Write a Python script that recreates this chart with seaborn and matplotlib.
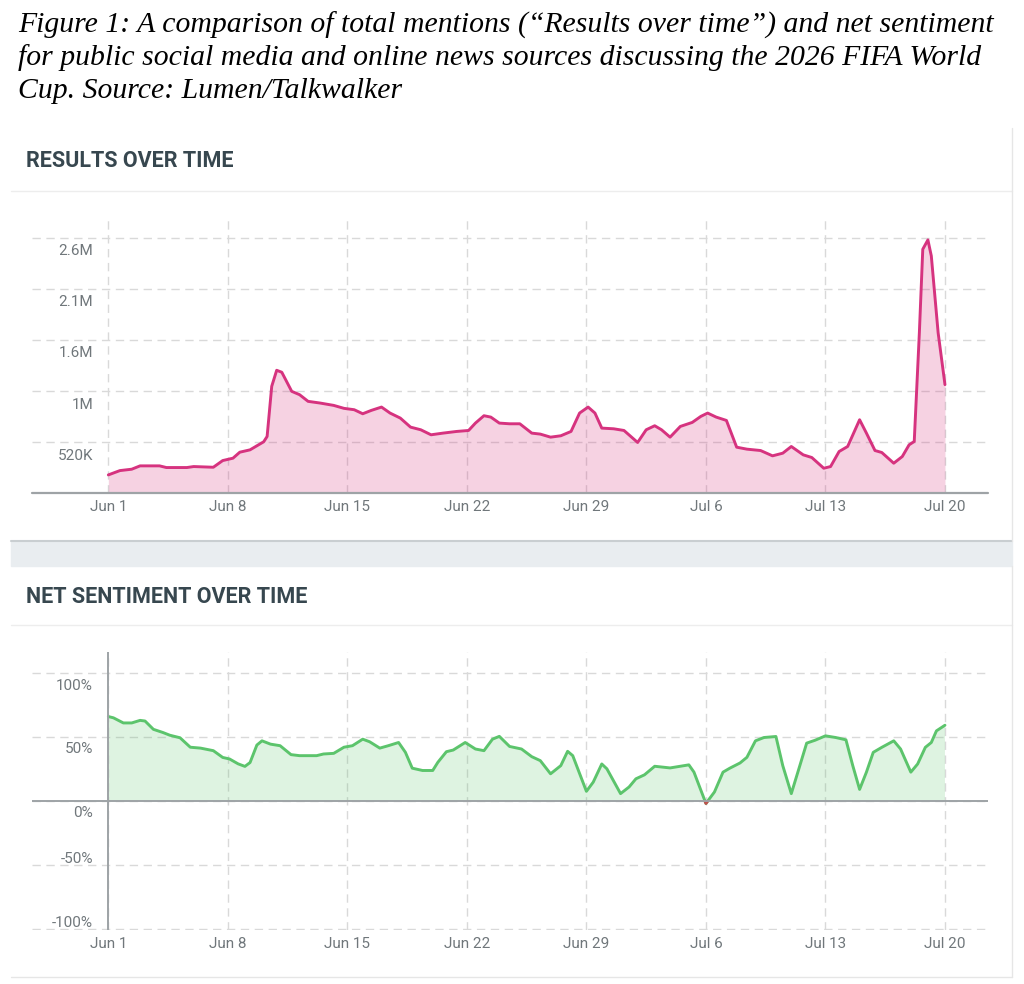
import numpy as np
import pandas as pd
import matplotlib
matplotlib.use("Agg")
import matplotlib.pyplot as plt
import matplotlib.transforms as mtransforms
from matplotlib.patches import Rectangle
from matplotlib.lines import Line2D
import seaborn as sns

W, H = 1024, 984

# --------------------------
# Data
# --------------------------
start = pd.Timestamp("2026-06-01")
week_ticks = pd.date_range(start, periods=8, freq="7D")
week_labels = [f"{d:%b} {d.day}" for d in week_ticks]

caption_lines = [
    "Figure 1: A comparison of total mentions (\u201cResults over time\u201d) and net sentiment",
    "for public social media and online news sources discussing the 2026 FIFA World",
    "Cup. Source: Lumen/Talkwalker",
]

# days since Jun 1, mentions in thousands
mention_days = [0, 0.68, 1.37, 1.86, 3.0, 3.4, 4.6, 5.0, 6.15, 6.7, 7.3, 7.7, 8.3, 9.1, 9.3,
                9.57, 9.86, 10.16, 10.74, 11.2, 11.7, 12.4, 13.2, 13.8, 14.4, 14.9, 15.4, 16.0,
                16.5, 17.1, 17.7, 18.3, 18.9, 19.6, 20.4, 21.1, 21.5, 22.0, 22.4, 22.9, 23.5,
                24.1, 24.8, 25.3, 25.9, 26.5, 27.1, 27.6, 28.1, 28.5, 28.9, 29.6, 30.2, 31.0,
                31.5, 32.0, 32.4, 32.9, 33.5, 34.2, 34.7, 35.1, 35.6, 36.2, 36.8, 37.4, 38.2,
                38.9, 39.5, 40.0, 40.7, 41.2, 41.9, 42.3, 42.8, 43.3, 44.0, 44.4, 44.9, 45.3,
                46.0, 46.5, 46.9, 47.2, 47.5, 47.7, 48.0, 48.2, 48.6, 49.0]
mention_k = [187, 231, 245, 279, 279, 262, 262, 272, 265, 333, 357, 418, 442, 524, 578,
             1088, 1251, 1231, 1037, 1003, 935, 918, 894, 864, 850, 809, 843, 877,
             816, 765, 673, 646, 595, 612, 629, 639, 714, 789, 775, 714, 707,
             707, 612, 602, 571, 585, 629, 816, 877, 816, 663, 656, 639, 517,
             646, 687, 646, 571, 680, 721, 782, 816, 775, 741, 469, 449, 435,
             381, 408, 476, 391, 364, 255, 272, 425, 476, 748, 612, 435, 415,
             306, 374, 493, 527, 1632, 2482, 2577, 2414, 1632, 1105]
mention_ticks = [520e3, 1040e3, 1560e3, 2080e3, 2600e3]
mention_labels = ["520K", "1M", "1.6M", "2.1M", "2.6M"]

sentiment_days = [0, 0.3, 0.88, 1.37, 1.86, 2.15, 2.64, 3.2, 3.6, 4.2, 4.8, 5.4, 6.15, 6.7,
                  7.1, 7.6, 8.0, 8.3, 8.7, 9.0, 9.5, 10.06, 10.7, 11.2, 12.2, 12.6, 13.2,
                  13.8, 14.3, 14.9, 15.3, 15.9, 16.4, 17.0, 17.4, 17.8, 18.4, 19.0, 19.3,
                  19.8, 20.2, 20.9, 21.5, 22.0, 22.5, 22.9, 23.5, 24.2, 24.8, 25.3, 25.9,
                  26.5, 26.9, 27.2, 28.0, 28.4, 28.9, 29.2, 30.0, 30.5, 30.9, 31.4, 32.0,
                  32.9, 34.0, 34.3, 35.0, 35.5, 36.0, 36.4, 37.0, 37.4, 37.9, 38.4, 39.1,
                  39.5, 40.0, 40.5, 40.9, 41.4, 42.0, 42.6, 43.2, 43.6, 44.0, 44.4, 44.8,
                  45.3, 46.0, 46.4, 47.0, 47.4, 47.85, 48.2, 48.5, 49.0]
sentiment_pct = [66, 65, 61, 61, 63, 62.5, 56, 53.5, 51.4, 49.4, 42, 41.3, 39.3, 34,
                 32.8, 29, 27, 30, 43.7, 47, 44.4, 43.2, 36.2, 35.4, 35.4, 36.7, 37.2,
                 42, 43.2, 48.3, 46.3, 41.3, 43.2, 45.7, 38, 25.6, 23.8, 23.8, 30.2,
                 38.5, 39.8, 45.7, 40.6, 39.3, 48.3, 50.5, 42.6, 40.6, 34.6, 31.5, 21.2,
                 27.6, 38.8, 35.4, 7.5, 14.7, 28.9, 25.1, 5.7, 10.9, 17.3, 20.4, 27.1,
                 25.8, 28.2, 22.5, -2, 7, 22.5, 25.6, 29.7, 34.1, 47, 49.6, 50.4,
                 27.6, 5.7, 27.6, 45.2, 47.5, 50.9, 49.6, 47.8, 27.6, 9, 22.5, 38,
                 41.9, 47, 40.6, 22.5, 28.9, 41.9, 45.7, 54.8, 59.2]
sentiment_ticks = [-100, -50, 0, 50, 100]
sentiment_labels = ["-100%", "-50%", "0%", "50%", "100%"]

mentions = pd.DataFrame({
    "date": start + pd.to_timedelta(mention_days, unit="D"),
    "value": np.array(mention_k, dtype=float) * 1000,
})
sentiment = pd.DataFrame({
    "date": start + pd.to_timedelta(sentiment_days, unit="D"),
    "value": np.array(sentiment_pct, dtype=float),
})

PINK = "#d6337f"
GREEN = "#5cc46c"
RED = "#c0504d"
GRID = "#d9d9d9"
AXIS = "#9ea3a6"
TICK = "#70777b"
TITLE = "#37474f"


def box(x0, y0, x1, y1):
    # pixel box (top-left origin) -> figure fraction rect
    return [x0 / W, 1 - y1 / H, (x1 - x0) / W, (y1 - y0) / H]


def style_axes(ax, label_shift):
    ax.grid(True, linestyle=(0, (6, 4)), color=GRID, linewidth=1)
    ax.set_axisbelow(True)
    for s in ["top", "right", "left", "bottom"]:
        ax.spines[s].set_visible(False)
    ax.set_xlabel("")
    ax.set_ylabel("")
    ax.tick_params(axis="x", length=0, pad=5, labelsize=11, labelcolor=TICK)
    ax.tick_params(axis="y", length=0, pad=-44, labelsize=11, labelcolor=TICK)
    ax.set_xlim(start - pd.Timedelta(days=4.47), start + pd.Timedelta(days=51.52))
    for lab, dy in zip(ax.get_yticklabels(), label_shift):
        off = mtransforms.ScaledTranslation(0, dy / 100, fig.dpi_scale_trans)
        lab.set_transform(lab.get_transform() + off)


sns.set_theme(style="white")
plt.rcParams["font.family"] = ["Roboto", "DejaVu Sans"]
plt.rcParams["lines.solid_joinstyle"] = "round"

fig = plt.figure(figsize=(W / 100, H / 100), dpi=100)

# --------------------------
# Card decorations
# --------------------------
fig.add_artist(Rectangle((11 / W, 1 - 566 / H), (1012 - 11) / W, 25 / H,
                         transform=fig.transFigure, color="#e9edf0", zorder=0))
fig.add_artist(Line2D([11 / W, 1012 / W], [1 - 541 / H] * 2, transform=fig.transFigure,
                      color="#c9ced1", linewidth=1.5))
for yy in [190.7, 625]:
    fig.add_artist(Line2D([11 / W, 1012 / W], [1 - yy / H] * 2, transform=fig.transFigure,
                          color="#ededed", linewidth=1))
fig.add_artist(Line2D([1012 / W] * 2, [1 - 128 / H, 1 - 541 / H], transform=fig.transFigure,
                      color="#e6e6e6", linewidth=1))
fig.add_artist(Line2D([1012 / W] * 2, [1 - 566 / H, 1 - 977 / H], transform=fig.transFigure,
                      color="#e6e6e6", linewidth=1))
fig.add_artist(Line2D([11 / W, 1012 / W], [1 - 977 / H] * 2, transform=fig.transFigure,
                      color="#e6e6e6", linewidth=1))

for i, line in enumerate(caption_lines):
    fig.text(18 / W, 1 - (33 + 32.4 * i) / H, line, family="Liberation Serif",
             style="italic", fontsize=21.4, color="black", va="baseline")

fig.text(26 / W, 1 - 161 / H, "RESULTS OVER TIME", fontweight="bold", fontsize=15.5,
         color=TITLE, va="center")
fig.text(26 / W, 1 - 597 / H, "NET SENTIMENT OVER TIME", fontweight="bold", fontsize=15.5,
         color=TITLE, va="center")

# --------------------------
# Results over time
# --------------------------
ax1 = fig.add_axes(box(32, 217, 988, 493.3))
ax1.fill_between(mentions["date"], mentions["value"], 0, color=PINK, alpha=0.22, linewidth=0)
sns.lineplot(data=mentions, x="date", y="value", ax=ax1, color=PINK, linewidth=2.1)
ax1.set_ylim(0, 2.81e6)
ax1.set_yticks(mention_ticks, mention_labels)
ax1.set_xticks(week_ticks, week_labels)
ax1.axhline(0, color=AXIS, linewidth=1.6, clip_on=False)
style_axes(ax1, [-12] * 5)

# --------------------------
# Net sentiment over time
# --------------------------
ax2 = fig.add_axes(box(32, 652, 988, 930))
vals = sentiment["value"].to_numpy()
ax2.fill_between(sentiment["date"], vals, 0, where=vals >= 0, interpolate=True,
                 color=GREEN, alpha=0.2, linewidth=0)
ax2.fill_between(sentiment["date"], vals, 0, where=vals <= 0, interpolate=True,
                 color=RED, alpha=0.2, linewidth=0)
sns.lineplot(data=sentiment, x="date", y="value", ax=ax2, color=GREEN, linewidth=2.1)
red_line = ax2.plot(sentiment["date"], vals, color=RED, linewidth=2.1)[0]
red_line.set_clip_path(Rectangle((0, -200), 1, 200, transform=ax2.get_yaxis_transform()))
ax2.set_ylim(-101, 116.5)
ax2.set_yticks(sentiment_ticks, sentiment_labels)
ax2.set_xticks(week_ticks, week_labels)
ax2.axhline(0, color=AXIS, linewidth=1.4)
ax2.axvline(start, color=AXIS, linewidth=1.4)
style_axes(ax2, [7, 7, -11, -11, -11])

fig.savefig("out.png", dpi=100, facecolor="white")
